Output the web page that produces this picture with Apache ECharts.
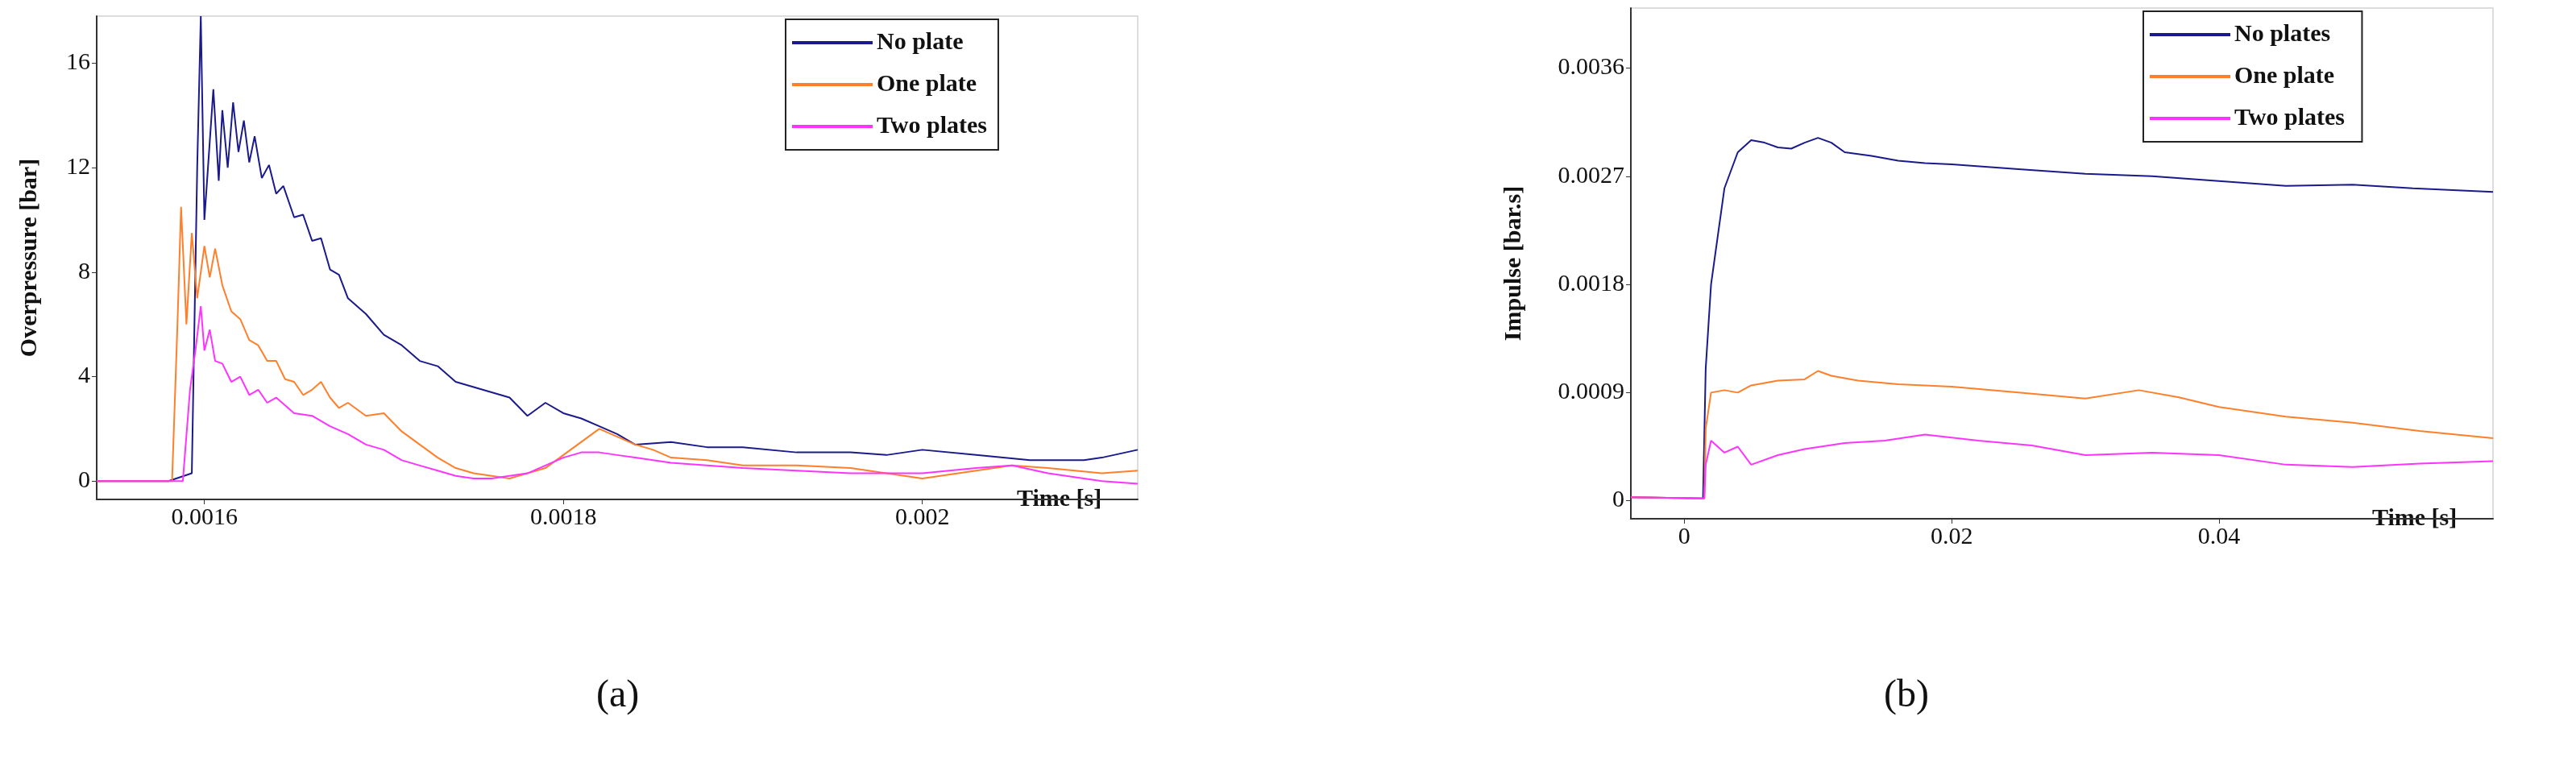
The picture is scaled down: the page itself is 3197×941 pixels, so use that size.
<!DOCTYPE html>
<html>
<head>
<meta charset="utf-8">
<script src="https://cdn.jsdelivr.net/npm/echarts@6/dist/echarts.min.js"></script>
<style>html,body{margin:0;padding:0;background:#fff}#chart{width:3197px;height:941px}</style>
</head>
<body>
<div id="chart"></div>
<script>
// (a) overpressure, time in s
const noPlateA = [[0.00154,0],[0.00158,0],[0.001593,0.3],[0.001596,12],[0.001598,17.8],[0.0016,10],[0.001602,12],[0.001605,15],[0.001608,11.5],[0.00161,14.2],[0.001613,12],[0.001616,14.5],[0.001619,12.6],[0.001622,13.8],[0.001625,12.2],[0.001628,13.2],[0.001632,11.6],[0.001636,12.1],[0.00164,11.0],[0.001644,11.3],[0.00165,10.1],[0.001655,10.2],[0.00166,9.2],[0.001665,9.3],[0.00167,8.1],[0.001675,7.9],[0.00168,7.0],[0.00169,6.4],[0.0017,5.6],[0.00171,5.2],[0.00172,4.6],[0.00173,4.4],[0.00174,3.8],[0.00175,3.6],[0.00176,3.4],[0.00177,3.2],[0.00178,2.5],[0.00179,3.0],[0.0018,2.6],[0.00181,2.4],[0.00182,2.1],[0.00183,1.8],[0.00184,1.4],[0.00186,1.5],[0.00188,1.3],[0.0019,1.3],[0.00193,1.1],[0.00196,1.1],[0.00198,1.0],[0.002,1.2],[0.00203,1.0],[0.00206,0.8],[0.00209,0.8],[0.0021,0.9],[0.00212,1.2]];
const onePlateA = [[0.00154,0],[0.001582,0],[0.001585,6],[0.001587,10.5],[0.00159,6],[0.001593,9.5],[0.001596,7],[0.0016,9],[0.001603,7.8],[0.001606,8.9],[0.00161,7.5],[0.001615,6.5],[0.00162,6.2],[0.001625,5.4],[0.00163,5.2],[0.001635,4.6],[0.00164,4.6],[0.001645,3.9],[0.00165,3.8],[0.001655,3.3],[0.00166,3.5],[0.001665,3.8],[0.00167,3.2],[0.001675,2.8],[0.00168,3.0],[0.00169,2.5],[0.0017,2.6],[0.00171,1.9],[0.00172,1.4],[0.00173,0.9],[0.00174,0.5],[0.00175,0.3],[0.00176,0.2],[0.00177,0.1],[0.00178,0.3],[0.00179,0.5],[0.0018,1.0],[0.00181,1.5],[0.00182,2.0],[0.00183,1.7],[0.00184,1.4],[0.00185,1.2],[0.00186,0.9],[0.00188,0.8],[0.0019,0.6],[0.00193,0.6],[0.00196,0.5],[0.00198,0.3],[0.002,0.1],[0.00202,0.3],[0.00205,0.6],[0.00207,0.5],[0.0021,0.3],[0.00212,0.4]];
const twoPlatesA = [[0.00154,0],[0.001588,0],[0.001592,3.5],[0.001595,5],[0.001598,6.7],[0.0016,5],[0.001603,5.8],[0.001606,4.6],[0.00161,4.5],[0.001615,3.8],[0.00162,4.0],[0.001625,3.3],[0.00163,3.5],[0.001635,3.0],[0.00164,3.2],[0.00165,2.6],[0.00166,2.5],[0.00167,2.1],[0.00168,1.8],[0.00169,1.4],[0.0017,1.2],[0.00171,0.8],[0.00172,0.6],[0.00173,0.4],[0.00174,0.2],[0.00175,0.1],[0.00176,0.1],[0.00177,0.2],[0.00178,0.3],[0.00179,0.6],[0.0018,0.9],[0.00181,1.1],[0.00182,1.1],[0.00183,1.0],[0.00184,0.9],[0.00186,0.7],[0.00188,0.6],[0.0019,0.5],[0.00193,0.4],[0.00196,0.3],[0.002,0.3],[0.00203,0.5],[0.00205,0.6],[0.00207,0.3],[0.0021,0.0],[0.00212,-0.1]];
const xTicksA = [0.0016, 0.0018, 0.002];
const yTicksA = [0, 4, 8, 12, 16];

// (b) impulse
const noPlatesB = [[-0.004,0.00003],[0.0014,0.00002],[0.0016,0.0011],[0.002,0.0018],[0.0025,0.0022],[0.003,0.0026],[0.004,0.0029],[0.005,0.003],[0.006,0.00298],[0.007,0.00294],[0.008,0.00293],[0.009,0.00298],[0.01,0.00302],[0.011,0.00298],[0.012,0.0029],[0.014,0.00287],[0.016,0.00283],[0.018,0.00281],[0.02,0.0028],[0.025,0.00276],[0.03,0.00272],[0.035,0.0027],[0.04,0.00266],[0.045,0.00262],[0.05,0.00263],[0.0545,0.0026],[0.0605,0.00257]];
const onePlateB = [[-0.004,0.00003],[0.0015,0.00002],[0.0016,0.0006],[0.002,0.0009],[0.003,0.00092],[0.004,0.0009],[0.005,0.00096],[0.007,0.001],[0.009,0.00101],[0.01,0.00108],[0.011,0.00104],[0.013,0.001],[0.016,0.00097],[0.02,0.00095],[0.025,0.0009],[0.03,0.00085],[0.034,0.00092],[0.037,0.00086],[0.04,0.00078],[0.045,0.0007],[0.05,0.00065],[0.055,0.00058],[0.0605,0.00052]];
const twoPlatesB = [[-0.004,0.00003],[0.0015,0.00002],[0.0016,0.0003],[0.002,0.0005],[0.003,0.0004],[0.004,0.00045],[0.005,0.0003],[0.007,0.00038],[0.009,0.00043],[0.012,0.00048],[0.015,0.0005],[0.018,0.00055],[0.022,0.0005],[0.026,0.00046],[0.03,0.00038],[0.035,0.0004],[0.04,0.00038],[0.045,0.0003],[0.05,0.00028],[0.055,0.00031],[0.0605,0.00033]];
const xTicksB = [0, 0.02, 0.04];
const yTicksB = [0, 0.0009, 0.0018, 0.0027, 0.0036];

const colors = ['#1a1a8c', '#ff7f2a', '#ff33ff'];
const font = 'Liberation Serif';
const lab = {fontFamily: font, fontSize: 30, color: '#111'};
const nameStyle = {fontFamily: font, fontSize: 30, fontWeight: 'bold', color: '#111'};

const chart = echarts.init(document.getElementById('chart'));
const axis = (grid, min, max, ticks, fmt, extra) => Object.assign({
  type: 'value', gridIndex: grid, min, max,
  axisLine: {onZero: false, lineStyle: {color: '#333', width: 2}},
  axisTick: {length: 6, lineStyle: {color: '#333'}, customValues: ticks},
  splitLine: {show: false},
  axisLabel: Object.assign({}, lab, {customValues: ticks, formatter: fmt})
}, extra);
const legend = (left, top, names) => ({
  data: names, orient: 'vertical', left, top, itemWidth: 100, itemHeight: 4, itemGap: 22,
  icon: 'rect', borderColor: '#222', borderWidth: 2, padding: [14, 14, 14, 8],
  textStyle: {fontFamily: font, fontSize: 30, fontWeight: 'bold', color: '#111'}
});
const line = (name, data, i, idx) => ({
  name, type: 'line', data, xAxisIndex: idx, yAxisIndex: idx, showSymbol: false,
  lineStyle: {width: 2, color: colors[i]}, itemStyle: {color: colors[i]}
});
const timeName = {name: 'Time [s]', nameLocation: 'end', nameGap: -150,
  nameTextStyle: Object.assign({}, nameStyle, {padding: [100, 0, 0, 0]})};

chart.setOption({
  animation: false,
  color: colors,
  graphic: [
    {type: 'text', left: 740, top: 840, style: {text: '(a)', fontFamily: font, fontSize: 48, fill: '#111'}},
    {type: 'text', left: 2338, top: 840, style: {text: '(b)', fontFamily: font, fontSize: 48, fill: '#111'}},
    {type: 'rect', shape: {x: 120, y: 20, width: 1292, height: 600}, style: {fill: 'none', stroke: '#ddd', lineWidth: 2}, z: -1},
    {type: 'rect', shape: {x: 2024, y: 10, width: 1070, height: 634}, style: {fill: 'none', stroke: '#ddd', lineWidth: 2}, z: -1}
  ],
  legend: [
    legend(975, 24, ['No plate', 'One plate', 'Two plates']),
    legend(2660, 14, ['No plates', 'One plate ', 'Two plates '])
  ],
  grid: [
    {left: 120, top: 20, width: 1292, height: 600},
    {left: 2024, top: 10, width: 1070, height: 634}
  ],
  xAxis: [
    axis(0, 0.00154, 0.00212, xTicksA, v => String(+v.toFixed(4)), timeName),
    axis(1, -0.004, 0.0605, xTicksB, v => v === 0 ? '0' : String(+v.toFixed(2)), timeName)
  ],
  yAxis: [
    axis(0, -0.7, 17.8, yTicksA, v => String(v),
      {name: 'Overpressure [bar]', nameLocation: 'middle', nameGap: 68, nameTextStyle: nameStyle}),
    axis(1, -0.00015, 0.0041, yTicksB, v => v === 0 ? '0' : v.toFixed(4),
      {name: 'Impulse [bar.s]', nameLocation: 'middle', nameGap: 130, nameTextStyle: nameStyle})
  ],
  series: [
    line('No plate', noPlateA, 0, 0),
    line('One plate', onePlateA, 1, 0),
    line('Two plates', twoPlatesA, 2, 0),
    line('No plates', noPlatesB, 0, 1),
    line('One plate ', onePlateB, 1, 1),
    line('Two plates ', twoPlatesB, 2, 1)
  ]
});
</script>
</body>
</html>
